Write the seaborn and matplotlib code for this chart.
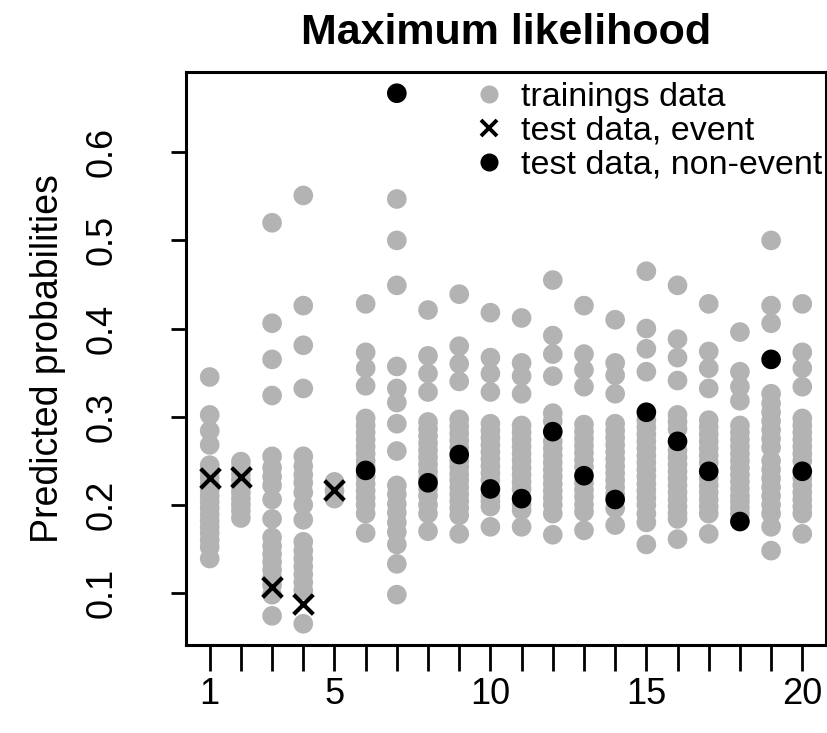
import matplotlib
matplotlib.use("Agg")
import numpy as np
import pandas as pd
import matplotlib.pyplot as plt
import seaborn as sns
from matplotlib.lines import Line2D

sns.set_theme(style="white")
plt.rcParams['font.family'] = ['Liberation Sans', 'DejaVu Sans']
plt.rcParams['text.color'] = 'black'
plt.rcParams['axes.labelcolor'] = 'black'
plt.rcParams['xtick.color'] = 'black'
plt.rcParams['ytick.color'] = 'black'

# predicted probabilities of the training data, one list per observation (1..20)
train_probs = [
    [0.345, 0.302, 0.284, 0.268, 0.245, 0.238, 0.231, 0.224, 0.217, 0.21, 0.203, 0.196, 0.189, 0.182, 0.175, 0.168, 0.16, 0.152, 0.139],
    [0.249, 0.242, 0.235, 0.228, 0.221, 0.214, 0.207, 0.2, 0.193, 0.185],
    [0.52, 0.406, 0.365, 0.324, 0.255, 0.242, 0.232, 0.222, 0.206, 0.184, 0.163, 0.153, 0.144, 0.135, 0.126, 0.117, 0.109, 0.098, 0.074],
    [0.551, 0.426, 0.381, 0.332, 0.255, 0.244, 0.234, 0.225, 0.214, 0.2, 0.183, 0.158, 0.148, 0.139, 0.13, 0.121, 0.112, 0.103, 0.065],
    [0.226, 0.216, 0.207],
    [0.428, 0.373, 0.355, 0.335, 0.298, 0.29, 0.282, 0.274, 0.266, 0.258, 0.25, 0.243, 0.232, 0.224, 0.216, 0.208, 0.2, 0.19, 0.168],
    [0.547, 0.5, 0.449, 0.357, 0.332, 0.316, 0.292, 0.261, 0.222, 0.212, 0.201, 0.191, 0.18, 0.169, 0.155, 0.133, 0.098],
    [0.421, 0.369, 0.349, 0.328, 0.294, 0.286, 0.278, 0.27, 0.262, 0.254, 0.246, 0.238, 0.23, 0.218, 0.21, 0.2, 0.19, 0.17],
    [0.439, 0.38, 0.36, 0.34, 0.297, 0.289, 0.281, 0.273, 0.265, 0.25, 0.243, 0.235, 0.228, 0.22, 0.212, 0.204, 0.196, 0.188, 0.167],
    [0.418, 0.367, 0.349, 0.328, 0.292, 0.284, 0.276, 0.268, 0.26, 0.252, 0.244, 0.236, 0.228, 0.21, 0.204, 0.198, 0.175],
    [0.412, 0.361, 0.346, 0.326, 0.29, 0.282, 0.274, 0.266, 0.258, 0.25, 0.242, 0.234, 0.226, 0.218, 0.2, 0.194, 0.175],
    [0.455, 0.392, 0.371, 0.346, 0.304, 0.295, 0.272, 0.264, 0.256, 0.248, 0.24, 0.232, 0.224, 0.216, 0.208, 0.2, 0.19, 0.166],
    [0.426, 0.371, 0.353, 0.334, 0.291, 0.283, 0.275, 0.267, 0.259, 0.251, 0.243, 0.225, 0.217, 0.209, 0.2, 0.192, 0.171],
    [0.41, 0.361, 0.347, 0.326, 0.292, 0.284, 0.276, 0.268, 0.26, 0.252, 0.244, 0.236, 0.228, 0.22, 0.212, 0.196, 0.177],
    [0.465, 0.4, 0.377, 0.351, 0.296, 0.288, 0.28, 0.272, 0.264, 0.256, 0.248, 0.24, 0.232, 0.224, 0.216, 0.208, 0.2, 0.19, 0.18, 0.155],
    [0.449, 0.388, 0.367, 0.341, 0.302, 0.294, 0.286, 0.262, 0.254, 0.246, 0.238, 0.23, 0.222, 0.214, 0.206, 0.198, 0.19, 0.184, 0.161],
    [0.428, 0.374, 0.355, 0.332, 0.296, 0.288, 0.28, 0.272, 0.264, 0.256, 0.248, 0.23, 0.222, 0.214, 0.206, 0.198, 0.19, 0.167],
    [0.396, 0.351, 0.334, 0.318, 0.29, 0.282, 0.274, 0.266, 0.258, 0.25, 0.242, 0.234, 0.226, 0.218, 0.21, 0.204, 0.197, 0.19],
    [0.5, 0.426, 0.406, 0.326, 0.315, 0.305, 0.295, 0.285, 0.275, 0.265, 0.25, 0.24, 0.23, 0.22, 0.21, 0.2, 0.19, 0.175, 0.148],
    [0.428, 0.373, 0.355, 0.334, 0.298, 0.29, 0.282, 0.274, 0.266, 0.258, 0.25, 0.23, 0.222, 0.214, 0.206, 0.198, 0.19, 0.167],
]

# test data
event_obs = [1, 2, 3, 4, 5]
event_prob = [0.230, 0.232, 0.107, 0.087, 0.217]
nonevent_obs = [6, 7, 8, 9, 10, 11, 12, 13, 14, 15, 16, 17, 18, 19, 20]
nonevent_prob = [0.239, 0.667, 0.225, 0.257, 0.218, 0.207, 0.283, 0.233, 0.206,
                 0.305, 0.272, 0.238, 0.181, 0.365, 0.238]

x_ticks = list(range(1, 21))
x_labels = ['1', '', '', '', '5', '', '', '', '', '10', '', '', '', '',
            '15', '', '', '', '', '20']
y_ticks = [0.1, 0.2, 0.3, 0.4, 0.5, 0.6]
y_labels = ['0.1', '0.2', '0.3', '0.4', '0.5', '0.6']

train_df = pd.DataFrame({
    'obs': [i + 1 for i, col in enumerate(train_probs) for _ in col],
    'prob': [v for col in train_probs for v in col],
})

grey = '#b3b3b3'

fig = plt.figure(figsize=(8.27, 7.33), dpi=100)
ax = fig.add_axes([186 / 827, 88 / 733, 640 / 827, 573 / 733])

sns.scatterplot(data=train_df, x='obs', y='prob', color=grey, s=200,
                edgecolor='none', linewidth=0, ax=ax, legend=False)
sns.scatterplot(x=nonevent_obs, y=nonevent_prob, color='black', s=200,
                edgecolor='none', linewidth=0, ax=ax, legend=False)
sns.scatterplot(x=event_obs, y=event_prob, color='black', marker='x', s=200,
                linewidth=3.0, ax=ax, legend=False)

# R style 4% padding
all_y = train_df['prob'].tolist() + event_prob + nonevent_prob
ymin, ymax = min(all_y), max(all_y)
pad = 0.04 * (ymax - ymin)
ax.set_xlim(1 - 0.04 * 19, 20 + 0.04 * 19)
ax.set_ylim(ymin - pad, ymax + pad)

ax.set_xticks(x_ticks)
ax.set_xticklabels(x_labels, fontsize=26)
ax.set_yticks(y_ticks)
ax.set_yticklabels(y_labels, fontsize=26, rotation=90, va='center')
ax.tick_params(axis='x', direction='out', length=19, width=2, pad=4,
               bottom=True)
ax.tick_params(axis='y', direction='out', length=11, width=2, pad=37,
               left=True)

for sp in ax.spines.values():
    sp.set_color('black')
    sp.set_linewidth(2.2)

ax.set_xlabel('')
ax.set_ylabel('Predicted probabilities', fontsize=27, va='center')
ax.yaxis.set_label_coords(-0.215, 0.5)
ax.set_title('Maximum likelihood', fontsize=31, fontweight='bold', pad=20,
             color='black')

handles = [
    Line2D([], [], marker='o', linestyle='none', color=grey, markersize=13, markeredgewidth=0),
    Line2D([], [], marker='x', linestyle='none', color='black', markersize=12, markeredgewidth=2.8),
    Line2D([], [], marker='o', linestyle='none', color='black', markersize=13, markeredgewidth=0),
]
labels = ['trainings data', 'test data, event', 'test data, non-event']
ax.legend(handles, labels, loc='upper right', bbox_to_anchor=(1.011, 1.0),
          frameon=False, fontsize=24.5,
          handlelength=1.0, handletextpad=0.45, labelspacing=0.08,
          borderaxespad=0.0, borderpad=0.3)

fig.savefig('out.png', dpi=100)
